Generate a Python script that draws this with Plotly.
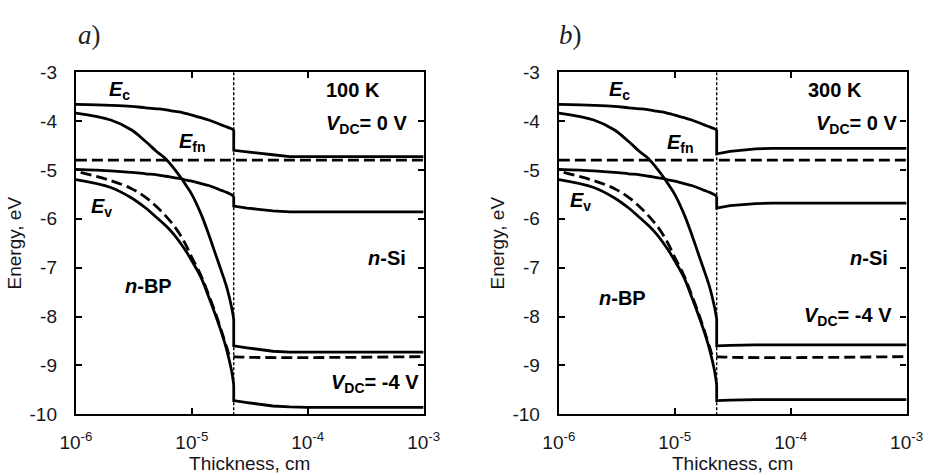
import plotly.graph_objects as go

# ---- data -----------------------------------------------------------------
X_INT = 2.3e-5                      # n-BP / n-Si interface, cm
X_MIN, X_MAX = 1e-6, 1e-3

# n-BP layer (shared by both temperatures)
THICK_BP = [1e-6, 2e-6, 3e-6, 4e-6, 5e-6, 6e-6, 7e-6, 8e-6, 9e-6,
            1e-5, 1.2e-5, 1.4e-5, 1.6e-5, 1.8e-5, 2e-5, 2.2e-5, 2.3e-5]
BP_EC_0V = [-3.66, -3.68, -3.70, -3.73, -3.75, -3.77, -3.80, -3.82, -3.85,
            -3.88, -3.93, -3.98, -4.03, -4.08, -4.12, -4.16, -4.18]
BP_EV_0V = [-4.99, -5.02, -5.05, -5.08, -5.10, -5.13, -5.16, -5.18, -5.21,
            -5.23, -5.28, -5.32, -5.37, -5.42, -5.46, -5.51, -5.54]
BP_EC_4V = [-3.84, -3.98, -4.18, -4.42, -4.63, -4.78, -4.97, -5.15, -5.33,
            -5.50, -5.90, -6.32, -6.72, -7.07, -7.40, -7.80, -8.05]
BP_EV_4V = [-5.20, -5.36, -5.57, -5.78, -5.98, -6.15, -6.32, -6.50, -6.68,
            -6.86, -7.20, -7.60, -7.97, -8.32, -8.68, -9.10, -9.40]

THICK_FN = [1.1e-6, 2e-6, 3e-6, 4e-6, 5e-6, 6e-6, 7e-6, 8e-6, 9e-6,
            1e-5, 1.2e-5, 1.4e-5, 1.6e-5, 1.8e-5, 2e-5, 2.13e-5]
BP_EFN_4V = [-5.05, -5.22, -5.38, -5.56, -5.76, -5.95, -6.14, -6.34, -6.56,
             -6.79, -7.16, -7.56, -7.93, -8.29, -8.63, -8.80]

# n-Si substrate
THICK_SI = [2.3e-5, 3e-5, 4e-5, 5e-5, 7e-5, 1e-4, 1e-3]
SI_EC_0V_100K = [-4.60, -4.63, -4.67, -4.69, -4.73, -4.73, -4.73]
SI_EV_0V_100K = [-5.74, -5.78, -5.82, -5.84, -5.86, -5.86, -5.86]
SI_EC_4V_100K = [-8.60, -8.64, -8.68, -8.71, -8.73, -8.73, -8.73]
SI_EV_4V_100K = [-9.72, -9.76, -9.80, -9.83, -9.85, -9.86, -9.86]
SI_EC_0V_300K = [-4.67, -4.62, -4.59, -4.57, -4.56, -4.56, -4.56]
SI_EV_0V_300K = [-5.78, -5.73, -5.70, -5.69, -5.68, -5.68, -5.68]
SI_EC_4V_300K = [-8.60, -8.59, -8.58, -8.58, -8.58, -8.58, -8.58]
SI_EV_4V_300K = [-9.72, -9.71, -9.70, -9.70, -9.70, -9.70, -9.70]

EFN_0V = -4.80
EFN_4V = -8.82

X_TICKS = [1e-6, 1e-5, 1e-4, 1e-3]
X_TICK_TEXT = ["10<sup>-6</sup>", "10<sup>-5</sup>", "10<sup>-4</sup>", "10<sup>-3</sup>"]
Y_TICKS = [-3, -4, -5, -6, -7, -8, -9, -10]
Y_TICK_TEXT = ["-3", "-4", "-5", "-6", "-7", "-8", "-9", "-10"]

PANELS = [
    dict(axes=("x", "y"), si=(SI_EC_0V_100K, SI_EV_0V_100K, SI_EC_4V_100K, SI_EV_4V_100K)),
    dict(axes=("x2", "y2"), si=(SI_EC_0V_300K, SI_EV_0V_300K, SI_EC_4V_300K, SI_EV_4V_300K)),
]

# ---- styling ----------------------------------------------------------------
W, H = 939, 475
SOLID = dict(color="black", width=2.8)
DASHED = dict(color="black", width=2.8, dash="11px,5px")
DOTTED = dict(color="black", width=1.4, dash="3px,2px")
SANS = "Liberation Sans, Arial, sans-serif"
SERIF = "Liberation Serif, Times New Roman, serif"
TEXT_GREY = "#161620"

fig = go.Figure()


def add_line(xs, ys, axes, line, shape="linear"):
    fig.add_trace(go.Scatter(x=xs, y=ys, mode="lines", line=dict(shape=shape, **line),
                             xaxis=axes[0], yaxis=axes[1], showlegend=False,
                             hoverinfo="skip"))


for p in PANELS:
    ax = p["axes"]
    si_ec0, si_ev0, si_ec4, si_ev4 = p["si"]
    # interface
    add_line([X_INT, X_INT], [Y_TICKS[0], Y_TICKS[-1]], ax, DOTTED)
    # n-BP bands, then jump into n-Si at the interface
    for bp, si in ((BP_EC_0V, si_ec0), (BP_EV_0V, si_ev0),
                   (BP_EC_4V, si_ec4), (BP_EV_4V, si_ev4)):
        add_line(THICK_BP, bp, ax, SOLID, shape="spline")
        add_line([THICK_BP[-1]] + THICK_SI, [bp[-1]] + si, ax, SOLID)
    # quasi-Fermi levels
    add_line([X_MIN, X_MAX], [EFN_0V, EFN_0V], ax, DASHED)
    add_line(THICK_FN + [X_INT, X_MAX], BP_EFN_4V + [EFN_4V, EFN_4V], ax, DASHED,
             shape="spline")

# ---- axes -------------------------------------------------------------------
def px_x(px):
    return px / W


def px_y(py):
    return 1 - py / H


Y_DOM = [px_y(423), px_y(65)]
common_x = dict(type="log", range=[-6, -3], tickvals=X_TICKS, ticktext=X_TICK_TEXT,
                showline=True, linecolor="black", linewidth=2.2, mirror="ticks",
                ticks="inside", ticklen=6, tickwidth=1.6, tickcolor="black",
                showgrid=False, zeroline=False, ticklabelstandoff=10,
                tickfont=dict(family=SANS, size=19, color=TEXT_GREY),
                title=dict(text="Thickness, cm", standoff=0,
                           font=dict(family=SANS, size=19, color=TEXT_GREY)))
common_y = dict(range=[-10, -3], tickvals=Y_TICKS, ticktext=Y_TICK_TEXT,
                showline=True, linecolor="black", linewidth=2.2, mirror="ticks",
                ticks="inside", ticklen=6, tickwidth=1.6, tickcolor="black",
                showgrid=False, zeroline=False, ticklabelstandoff=13,
                tickfont=dict(family=SANS, size=19, color=TEXT_GREY),
                title=dict(text="Energy, eV", standoff=3,
                           font=dict(family=SANS, size=19, color=TEXT_GREY)))

fig.update_layout(
    width=W, height=H, margin=dict(l=0, r=0, t=0, b=0),
    plot_bgcolor="white", paper_bgcolor="white", showlegend=False,
    xaxis=dict(domain=[px_x(62), px_x(422)], anchor="y", **common_x),
    yaxis=dict(domain=Y_DOM, anchor="x", **common_y),
    xaxis2=dict(domain=[px_x(562), px_x(922)], anchor="y2", **common_x),
    yaxis2=dict(domain=Y_DOM, anchor="x2", **common_y),
)

# ---- labels -----------------------------------------------------------------
BOLD = dict(family=SANS, size=20, color="black")


def note(ax, x_px, y_px, text, x0, xanchor="left"):
    # x_px / y_px are pixel positions inside a panel whose left edge is x0
    xlog = -6 + (x_px - x0) / 120.0
    yval = -3 - (y_px - 65) / (358 / 7)
    fig.add_annotation(x=xlog, y=yval, xref=ax[0], yref=ax[1], text=text,
                       showarrow=False, xanchor=xanchor, yanchor="middle",
                       font=BOLD)


labels_a = [
    (94, 84, "<b><i>E</i><sub>c</sub></b>", "left"),
    (167, 139, "<b><i>E</i><sub>fn</sub></b>", "left"),
    (76, 207, "<b><i>E</i><sub>v</sub></b>", "left"),
    (349, 84, "<b>100 K</b>", "center"),
    (319, 120, "<b><i>V</i><sub>DC</sub>= 0 V</b>", "left"),
    (362, 259, "<b><i>n</i>-Si</b>", "left"),
    (111, 289, "<b><i>n</i>-BP</b>", "left"),
    (324, 391, "<b><i>V</i><sub>DC</sub>= -4 V</b>", "left"),
]
labels_b = [
    (612, 84, "<b><i>E</i><sub>c</sub></b>", "left"),
    (672, 140, "<b><i>E</i><sub>fn</sub></b>", "left"),
    (571, 200, "<b><i>E</i><sub>v</sub></b>", "left"),
    (848, 84, "<b>300 K</b>", "center"),
    (826, 120, "<b><i>V</i><sub>DC</sub>= 0 V</b>", "left"),
    (861, 259, "<b><i>n</i>-Si</b>", "left"),
    (602, 301, "<b><i>n</i>-BP</b>", "left"),
    (814, 321, "<b><i>V</i><sub>DC</sub>= -4 V</b>", "left"),
]
for x_px, y_px, t, anc in labels_a:
    note(("x", "y"), x_px, y_px, t, 62, anc)
for x_px, y_px, t, anc in labels_b:
    note(("x2", "y2"), x_px, y_px, t, 562, anc)

# panel letters
for txt, xp in (("<i>a</i>)", 76), ("<i>b</i>)", 574)):
    fig.add_annotation(x=px_x(xp), y=px_y(26), xref="paper", yref="paper", text=txt,
                       showarrow=False, xanchor="center", yanchor="middle",
                       font=dict(family=SERIF, size=27, color="#222"))

fig.write_html("out.html")
